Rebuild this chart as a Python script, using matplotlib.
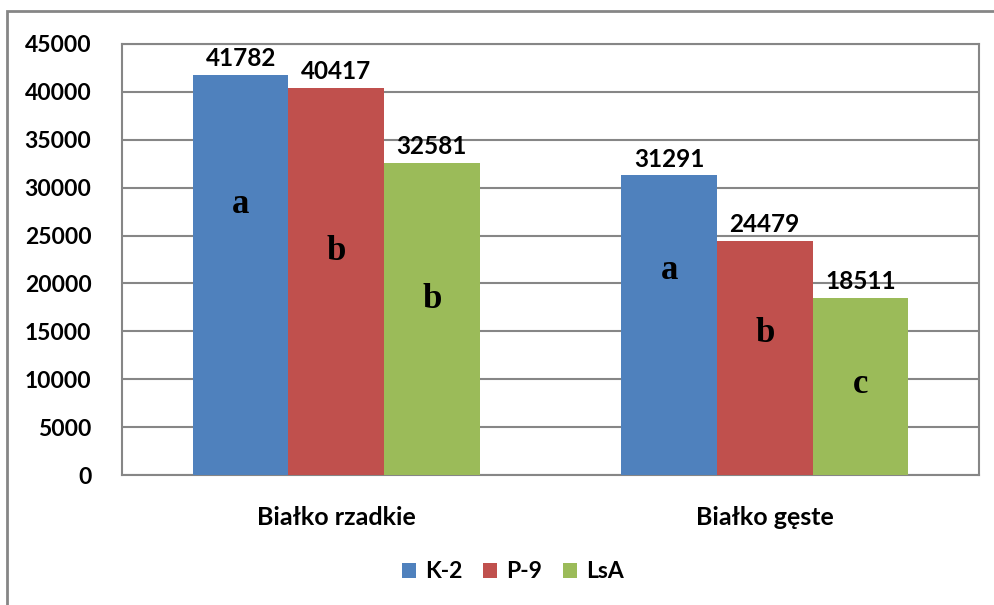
import matplotlib.pyplot as plt
import numpy as np
from matplotlib.patches import Rectangle

# dane
kategorie = ['Białko rzadkie', 'Białko gęste']
serie = ['K-2', 'P-9', 'LsA']
k2 = [41782, 31291]
p9 = [40417, 24479]
lsa = [32581, 18511]
# litery istotności i ich wysokość (w jednostkach osi y)
litery = [['a', 'b', 'b'], ['a', 'b', 'c']]
litery_y = [[28200, 23300, 18300], [21400, 14800, 9400]]

kolory = ['#4f81bd', '#c0504d', '#9bbb59']
szary = '#868686'

plt.rcParams['font.family'] = ['Lato', 'DejaVu Sans']

fig = plt.figure(figsize=(9.95, 6.05), dpi=100)
ax = fig.add_axes([122 / 995, 1 - 475 / 605, (979 - 122) / 995, (475 - 44) / 605])

# ramka całego wykresu
fig.patches.append(Rectangle((7 / 995, -0.05), 1.1, 1 - 11 / 605 + 0.05,
                             transform=fig.transFigure, fill=False,
                             edgecolor=szary, linewidth=2))

x = np.arange(len(kategorie))
w = 0.223
dane = [k2, p9, lsa]
for i, (nazwa, wart) in enumerate(zip(serie, dane)):
    pos = x + (i - 1) * w
    ax.bar(pos, wart, w, color=kolory[i], label=nazwa, zorder=3)
    for j, v in enumerate(wart):
        ax.text(pos[j], v + 500, str(v), ha='center', va='bottom',
                fontsize=17.5, fontweight='bold', zorder=4)
        ax.text(pos[j], litery_y[j][i], litery[j][i], ha='center', va='center',
                fontsize=25, fontweight='bold', family='Liberation Serif', zorder=4)

ax.set_xlim(-0.5, 1.5)
ax.set_ylim(0, 45000)
ax.set_yticks(np.arange(0, 45001, 5000))
ax.set_xticks(x)
ax.set_xticklabels(kategorie, fontsize=18, fontweight='bold')
ax.tick_params(axis='y', labelsize=16.5, length=0, pad=22)
ax.tick_params(axis='x', length=0, pad=22)
for t in ax.get_yticklabels():
    t.set_fontweight('bold')
ax.yaxis.grid(True, color=szary, linewidth=1.5, zorder=0)
for s in ax.spines.values():
    s.set_color(szary)
    s.set_linewidth(1.5)

leg = fig.legend(loc='center', bbox_to_anchor=(513 / 995, 1 - 572 / 605), ncol=3,
                 frameon=False, handlelength=0.6, handleheight=0.6,
                 handletextpad=0.4, columnspacing=0.9,
                 prop={'size': 16.5, 'weight': 'bold'})

plt.savefig('out.png', dpi=100)
